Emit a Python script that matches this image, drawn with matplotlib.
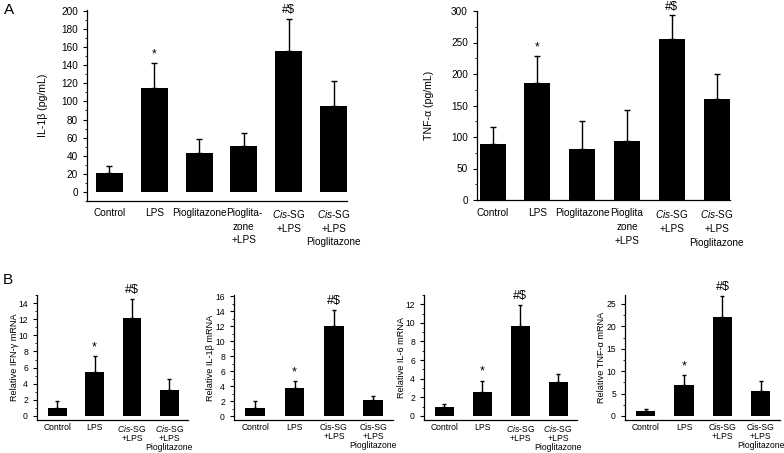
import matplotlib
matplotlib.use("Agg")
import matplotlib.pyplot as plt
from matplotlib.ticker import MultipleLocator

plt.rcParams['font.family'] = ['Liberation Sans', 'DejaVu Sans']
plt.rcParams['mathtext.fontset'] = 'custom'
plt.rcParams['mathtext.rm'] = 'Liberation Sans'
plt.rcParams['mathtext.it'] = 'Liberation Sans:italic'

# Panel A data
groups_a_il = ["Control", "LPS", "Pioglitazone", "Pioglita-\nzone\n+LPS",
               "$\\it{Cis}$-SG\n+LPS", "$\\it{Cis}$-SG\n+LPS\nPioglitazone"]
groups_a_tnf = ["Control", "LPS", "Pioglitazone", "Pioglita\nzone\n+LPS",
                "$\\it{Cis}$-SG\n+LPS", "$\\it{Cis}$-SG\n+LPS\nPioglitazone"]
il1b_mean = [21, 115, 43, 51, 156, 95]
il1b_err = [8, 27, 16, 14, 35, 28]
tnf_mean = [89, 185, 81, 93, 256, 160]
tnf_err = [27, 43, 44, 50, 37, 40]
sig_a = ["", "*", "", "", "#$", ""]

# Panel B data
groups_b = ["Control", "LPS", "$\\it{Cis}$-SG\n+LPS", "$\\it{Cis}$-SG\n+LPS\nPioglitazone"]
groups_b_plain = ["Control", "LPS", "Cis-SG\n+LPS", "Cis-SG\n+LPS\nPioglitazone"]
ifng_mean = [1.0, 5.4, 12.2, 3.2]
ifng_err = [0.9, 2.0, 2.3, 1.4]
il1b_mrna_mean = [1.1, 3.8, 12.1, 2.2]
il1b_mrna_err = [1.0, 0.9, 2.1, 0.5]
il6_mean = [0.96, 2.6, 9.7, 3.6]
il6_err = [0.3, 1.2, 2.2, 0.9]
tnf_mrna_mean = [1.1, 6.9, 22.2, 5.5]
tnf_mrna_err = [0.5, 2.2, 4.6, 2.2]
sig_b = ["", "*", "#$", ""]

W, H = 784, 453
fig = plt.figure(figsize=(W / 100, H / 100), dpi=100)


def px_axes(left, right, top, bottom):
    return fig.add_axes([left / W, 1 - bottom / H, (right - left) / W, (bottom - top) / H])


def draw(ax, labels, means, errs, sig, width, xlim, ylim, major, minor, ylabel,
         fs_tick, fs_lab, xpad, linesp, cap, sig_fs):
    x = list(range(len(means)))
    ax.bar(x, means, width=width, color='black', zorder=2)
    ax.errorbar(x, means, yerr=[[0] * len(errs), errs], fmt='none', ecolor='black',
                elinewidth=1, capsize=cap, capthick=1, zorder=1)
    for xi, m, e, s in zip(x, means, errs, sig):
        if s:
            ax.annotate(s, (xi, m + e), xytext=(0, 2), textcoords='offset points',
                        ha='center', va='bottom', fontsize=sig_fs)
    ax.set_xlim(*xlim)
    ax.set_ylim(*ylim)
    ax.set_xticks(x)
    ax.set_xticklabels(labels, fontsize=fs_tick, linespacing=linesp)
    ax.yaxis.set_major_locator(MultipleLocator(major))
    ax.yaxis.set_minor_locator(MultipleLocator(minor))
    ax.tick_params(axis='y', labelsize=fs_tick, length=3, width=0.8, direction='out')
    ax.tick_params(axis='y', which='minor', length=1.8, width=0.6)
    ax.tick_params(axis='x', length=0, pad=xpad)
    ax.set_ylabel(ylabel, fontsize=fs_lab)
    for side in ('top', 'right'):
        ax.spines[side].set_visible(False)
    for side in ('left', 'bottom'):
        ax.spines[side].set_linewidth(0.9)


ax1 = px_axes(87, 347, 10, 201)
draw(ax1, groups_a_il, il1b_mean, il1b_err, sig_a, 0.6, (-0.5, 5.3), (-10, 201), 20, 10,
     "IL-1β (pg/mL)", 7.2, 7.6, 5, 1.45, 2, 8.5)
ax1.yaxis.set_label_coords(-0.15, 0.5)

ax2 = px_axes(477, 730, 11, 200)
draw(ax2, groups_a_tnf, tnf_mean, tnf_err, sig_a, 0.58, (-0.35, 5.3), (0, 300), 50, 25,
     "TNF-α (pg/mL)", 7.2, 7.6, 6, 1.45, 2, 8.5)
ax2.yaxis.set_label_coords(-0.17, 0.5)

b_specs = [
    (37, 188, ifng_mean, ifng_err, (-0.5, 15), 2, 1, "Relative IFN-γ mRNA", groups_b),
    (234, 393, il1b_mrna_mean, il1b_mrna_err, (-0.5, 16.2), 2, 1, "Relative IL-1β mRNA", groups_b_plain),
    (424, 577, il6_mean, il6_err, (-0.45, 13), 2, 1, "Relative IL-6 mRNA", groups_b),
    (625, 780, tnf_mrna_mean, tnf_mrna_err, (-0.9, 27), 5, 2.5, "Relative TNF-α mRNA", groups_b_plain),
]
for left, right, m, e, yl, maj, mino, lab, glabels in b_specs:
    ax = px_axes(left, right, 295, 420)
    draw(ax, glabels, m, e, sig_b, 0.5, (-0.54, 3.5), yl, maj, mino, lab,
         6.2, 6.6, 2, 1.0, 1.5, 9)
    ax.yaxis.set_label_coords(-0.12, 0.5)

fig.text(4 / W, 1 - 14 / H, "A", fontsize=11)
fig.text(3 / W, 1 - 284 / H, "B", fontsize=11)

fig.savefig("out.png", dpi=100)
